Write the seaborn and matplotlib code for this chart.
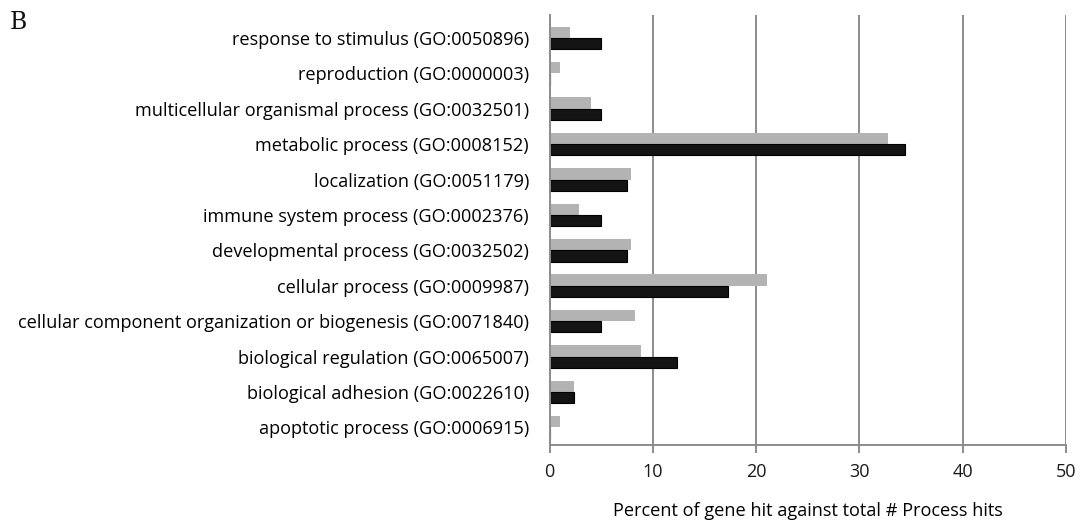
import matplotlib
matplotlib.use("Agg")
import matplotlib.pyplot as plt
import seaborn as sns
import pandas as pd

categories = [
    "response to stimulus (GO:0050896)",
    "reproduction (GO:0000003)",
    "multicellular organismal process (GO:0032501)",
    "metabolic process (GO:0008152)",
    "localization (GO:0051179)",
    "immune system process (GO:0002376)",
    "developmental process (GO:0032502)",
    "cellular process (GO:0009987)",
    "cellular component organization or biogenesis (GO:0071840)",
    "biological regulation (GO:0065007)",
    "biological adhesion (GO:0022610)",
    "apoptotic process (GO:0006915)",
]
series_names = ["Set 1", "Set 2"]
gray_values = [2.0, 1.0, 4.0, 32.8, 7.9, 2.8, 7.9, 21.0, 8.3, 8.8, 2.4, 1.0]
black_values = [5.0, 0.0, 5.0, 34.4, 7.5, 5.0, 7.5, 17.3, 5.0, 12.3, 2.4, 0.0]
x_ticks = [0, 10, 20, 30, 40, 50]
x_label = "Percent of gene hit against total # Process hits"
panel_label = "B"

df = pd.DataFrame({
    "category": categories * 2,
    "series": [series_names[0]] * len(categories) + [series_names[1]] * len(categories),
    "value": gray_values + black_values,
})

sns.set_theme(style="white")
plt.rcParams["font.family"] = ["Open Sans", "DejaVu Sans"]

fig = plt.figure(figsize=(10.8, 5.26), dpi=100)
ax = fig.add_axes([0.509, 0.154, 0.478, 0.8175])

sns.barplot(
    data=df, y="category", x="value", hue="series", order=categories,
    hue_order=series_names, palette=["#b3b3b3", "#141414"], orient="h",
    width=0.64, dodge=True, saturation=1, legend=False, ax=ax,
    edgecolor="none",
)
# thin dark outline on the dark bars
for patch in ax.patches[len(categories):]:
    patch.set_edgecolor("#000000")
    patch.set_linewidth(0.8)

ax.set_xlim(0, 50)
ax.set_ylim(11.5, -0.65)
ax.set_xticks(x_ticks)
ax.set_xticklabels([str(t) for t in x_ticks], fontsize=13, color="#1a1a1a")
ax.set_yticks(range(len(categories)))
ax.set_yticklabels(categories, fontsize=13.1, color="#000000")

ax.xaxis.grid(True, color="#8c8c8c", linewidth=1.4)
ax.yaxis.grid(False)
ax.set_axisbelow(True)

for side in ["top", "right"]:
    ax.spines[side].set_visible(False)
for side in ["left", "bottom"]:
    ax.spines[side].set_visible(True)
    ax.spines[side].set_color("#8c8c8c")
    ax.spines[side].set_linewidth(1.4)

ax.tick_params(axis="x", direction="out", length=6, width=1.4, color="#8c8c8c",
               pad=7, bottom=True)
ax.tick_params(axis="y", length=0, pad=15)

ax.set_ylabel("")
ax.set_xlabel(x_label, fontsize=13.1, color="#000000", labelpad=15)

fig.text(0.009, 0.958, panel_label, fontsize=17, family="DejaVu Serif",
         color="#111111", va="center", ha="left")

fig.savefig("out.png", dpi=100)
